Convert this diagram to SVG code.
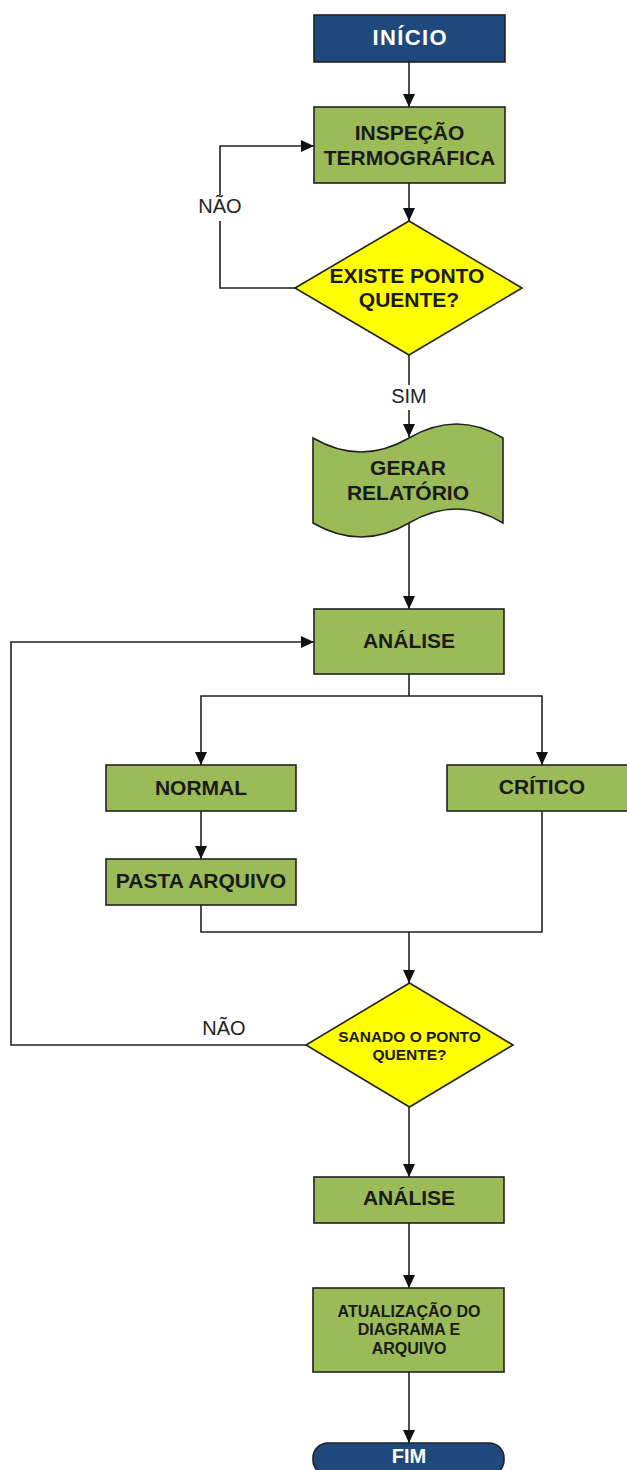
<svg xmlns="http://www.w3.org/2000/svg" width="627" height="1470" viewBox="0 0 627 1470">
<style>
.box{fill:#9BBB59;stroke:#222;stroke-width:1.6}
.term{fill:#1F497D;stroke:#222;stroke-width:1.6}
.dec{fill:#FFFF00;stroke:#222;stroke-width:1.6}
.t{font-family:"Liberation Sans",Arial,sans-serif;font-weight:bold;fill:#1a1a1a;text-anchor:middle}
.w{font-family:"Liberation Sans",Arial,sans-serif;font-weight:bold;fill:#ffffff;text-anchor:middle}
.lbl{font-family:"Liberation Sans",Arial,sans-serif;fill:#222;text-anchor:middle;font-size:20px}
.c{fill:none;stroke:#222;stroke-width:1.6}
.a{marker-end:url(#arr)}
</style>
<defs>
<marker id="arr" markerUnits="userSpaceOnUse" markerWidth="14" markerHeight="14" viewBox="0 0 14 14" refX="13" refY="7" orient="auto">
<path d="M0,1 L13,7 L0,13 Z" fill="#111"/>
</marker>
</defs>
<g id="connectors">
<path class="c a" d="M409,62 V107"/>
<path class="c a" d="M409,183 V221"/>
<path class="c" d="M295,288 H220 V221"/>
<path class="c a" d="M220,195 V146 H314"/>
<path class="c" d="M409,355 V385"/>
<path class="c a" d="M409,410 V437"/>
<path class="c a" d="M409,523 V609"/>
<path class="c" d="M409,674 V696"/>
<path class="c a" d="M409,696 H201 V765"/>
<path class="c a" d="M409,696 H542 V765"/>
<path class="c a" d="M201,811 V859"/>
<path class="c" d="M201,905 V932 H542 V811"/>
<path class="c a" d="M409,932 V983"/>
<path class="c a" d="M306,1045 H11 V642 H314"/>
<path class="c a" d="M409,1107 V1177"/>
<path class="c a" d="M409,1223 V1288"/>
<path class="c a" d="M409,1372 V1443"/>
<text class="lbl" x="220" y="213">NÃO</text>
<text class="lbl" x="409" y="403" font-size="19">SIM</text>
<text class="lbl" x="224" y="1035">NÃO</text>
</g>
<g id="inicio">
<rect class="term" x="314" y="15" width="191" height="47"/>
<text class="w" x="409.5" y="45" font-size="22" textLength="74">INÍCIO</text>
</g>
<g id="inspecao">
<rect class="box" x="314" y="107" width="191" height="76"/>
<text class="t" x="409.5" y="140" font-size="21">INSPEÇÃO</text>
<text class="t" x="409.5" y="165" font-size="21">TERMOGRÁFICA</text>
</g>
<g id="existe">
<path class="dec" d="M409,221 L522,288 L409,355 L295,288 Z"/>
<text class="t" x="407" y="283" font-size="21">EXISTE PONTO</text>
<text class="t" x="409" y="307" font-size="21">QUENTE?</text>
</g>
<g id="gerar">
<path class="box" d="M313,438 Q361,466 409,438 Q457,410 503,438 V523 Q457,495 409,523 Q361,551 313,523 Z"/>
<text class="t" x="408" y="475" font-size="21">GERAR</text>
<text class="t" x="408" y="500" font-size="21">RELATÓRIO</text>
</g>
<g id="analise1">
<rect class="box" x="314" y="609" width="190" height="65"/>
<text class="t" x="409" y="648" font-size="21">ANÁLISE</text>
</g>
<g id="normal">
<rect class="box" x="106" y="765" width="190" height="46"/>
<text class="t" x="201" y="795" font-size="21">NORMAL</text>
</g>
<g id="critico">
<rect class="box" x="447" y="765" width="190" height="46"/>
<text class="t" x="542" y="794" font-size="21">CRÍTICO</text>
</g>
<g id="pasta">
<rect class="box" x="106" y="859" width="190" height="46"/>
<text class="t" x="201" y="888" font-size="21">PASTA ARQUIVO</text>
</g>
<g id="sanado">
<path class="dec" d="M409.5,983 L513,1045 L409.5,1107 L306,1045 Z"/>
<text class="t" x="409.5" y="1042" font-size="15.5">SANADO O PONTO</text>
<text class="t" x="409.5" y="1060" font-size="15.5">QUENTE?</text>
</g>
<g id="analise2">
<rect class="box" x="314" y="1177" width="190" height="46"/>
<text class="t" x="409" y="1205" font-size="21">ANÁLISE</text>
</g>
<g id="atualizacao">
<rect class="box" x="313" y="1288" width="191" height="84"/>
<text class="t" x="409" y="1317" font-size="16">ATUALIZAÇÃO DO</text>
<text class="t" x="409" y="1335" font-size="16">DIAGRAMA E</text>
<text class="t" x="409" y="1354" font-size="16">ARQUIVO</text>
</g>
<g id="fim">
<rect class="term" x="313" y="1443" width="191" height="32" rx="15" ry="15"/>
<text class="w" x="409" y="1463" font-size="20">FIM</text>
</g>
</svg>
